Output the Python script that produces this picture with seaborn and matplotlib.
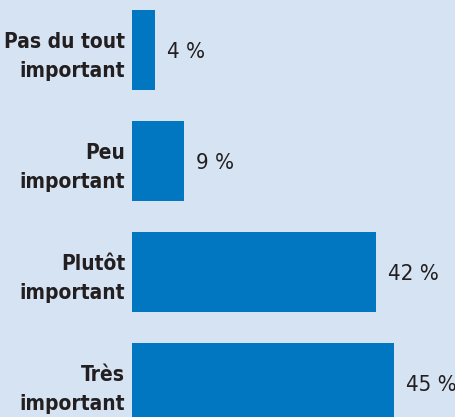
import matplotlib
matplotlib.use("Agg")
import matplotlib.pyplot as plt
import seaborn as sns
import pandas as pd

categories = ["Pas du tout\nimportant", "Peu\nimportant", "Plutôt\nimportant", "Très\nimportant"]
values = [4, 9, 42, 45]
value_labels = ["4 %", "9 %", "42 %", "45 %"]

bg = "#d5e3f3"
bar_color = "#0077c0"
text_color = "#231f20"

sns.set_theme(style="white")
plt.rcParams["font.family"] = ["DejaVu Sans"]

df = pd.DataFrame({"cat": categories, "val": values})

fig = plt.figure(figsize=(4.56, 4.17), dpi=100, facecolor=bg)
ax = fig.add_axes([132 / 456, 0, 1 - 132 / 456, 1])
ax.set_facecolor(bg)

sns.barplot(data=df, x="val", y="cat", orient="h", color=bar_color,
            width=80 / 111, saturation=1, linewidth=0, ax=ax)

ax.set_xlim(0, (456 - 132) / 5.82)
ax.set_ylim((417 - 50) / 111, -50 / 111)

for i, (v, lab) in enumerate(zip(values, value_labels)):
    ax.text(v + 12 / 5.82, i + 0.02, lab, va="center", ha="left",
            fontsize=16, color=text_color, fontstretch="condensed")

ax.set_xticks([])
ax.set_xlabel("")
ax.set_ylabel("")
ax.set_yticks(range(len(categories)), labels=categories, fontsize=15,
              fontweight="bold", fontstretch="condensed", color=text_color,
              ha="right", multialignment="right", linespacing=1.55)
ax.tick_params(axis="y", length=0, pad=5)
for s in ax.spines.values():
    s.set_visible(False)

fig.savefig("out.png", dpi=100, facecolor=bg)
